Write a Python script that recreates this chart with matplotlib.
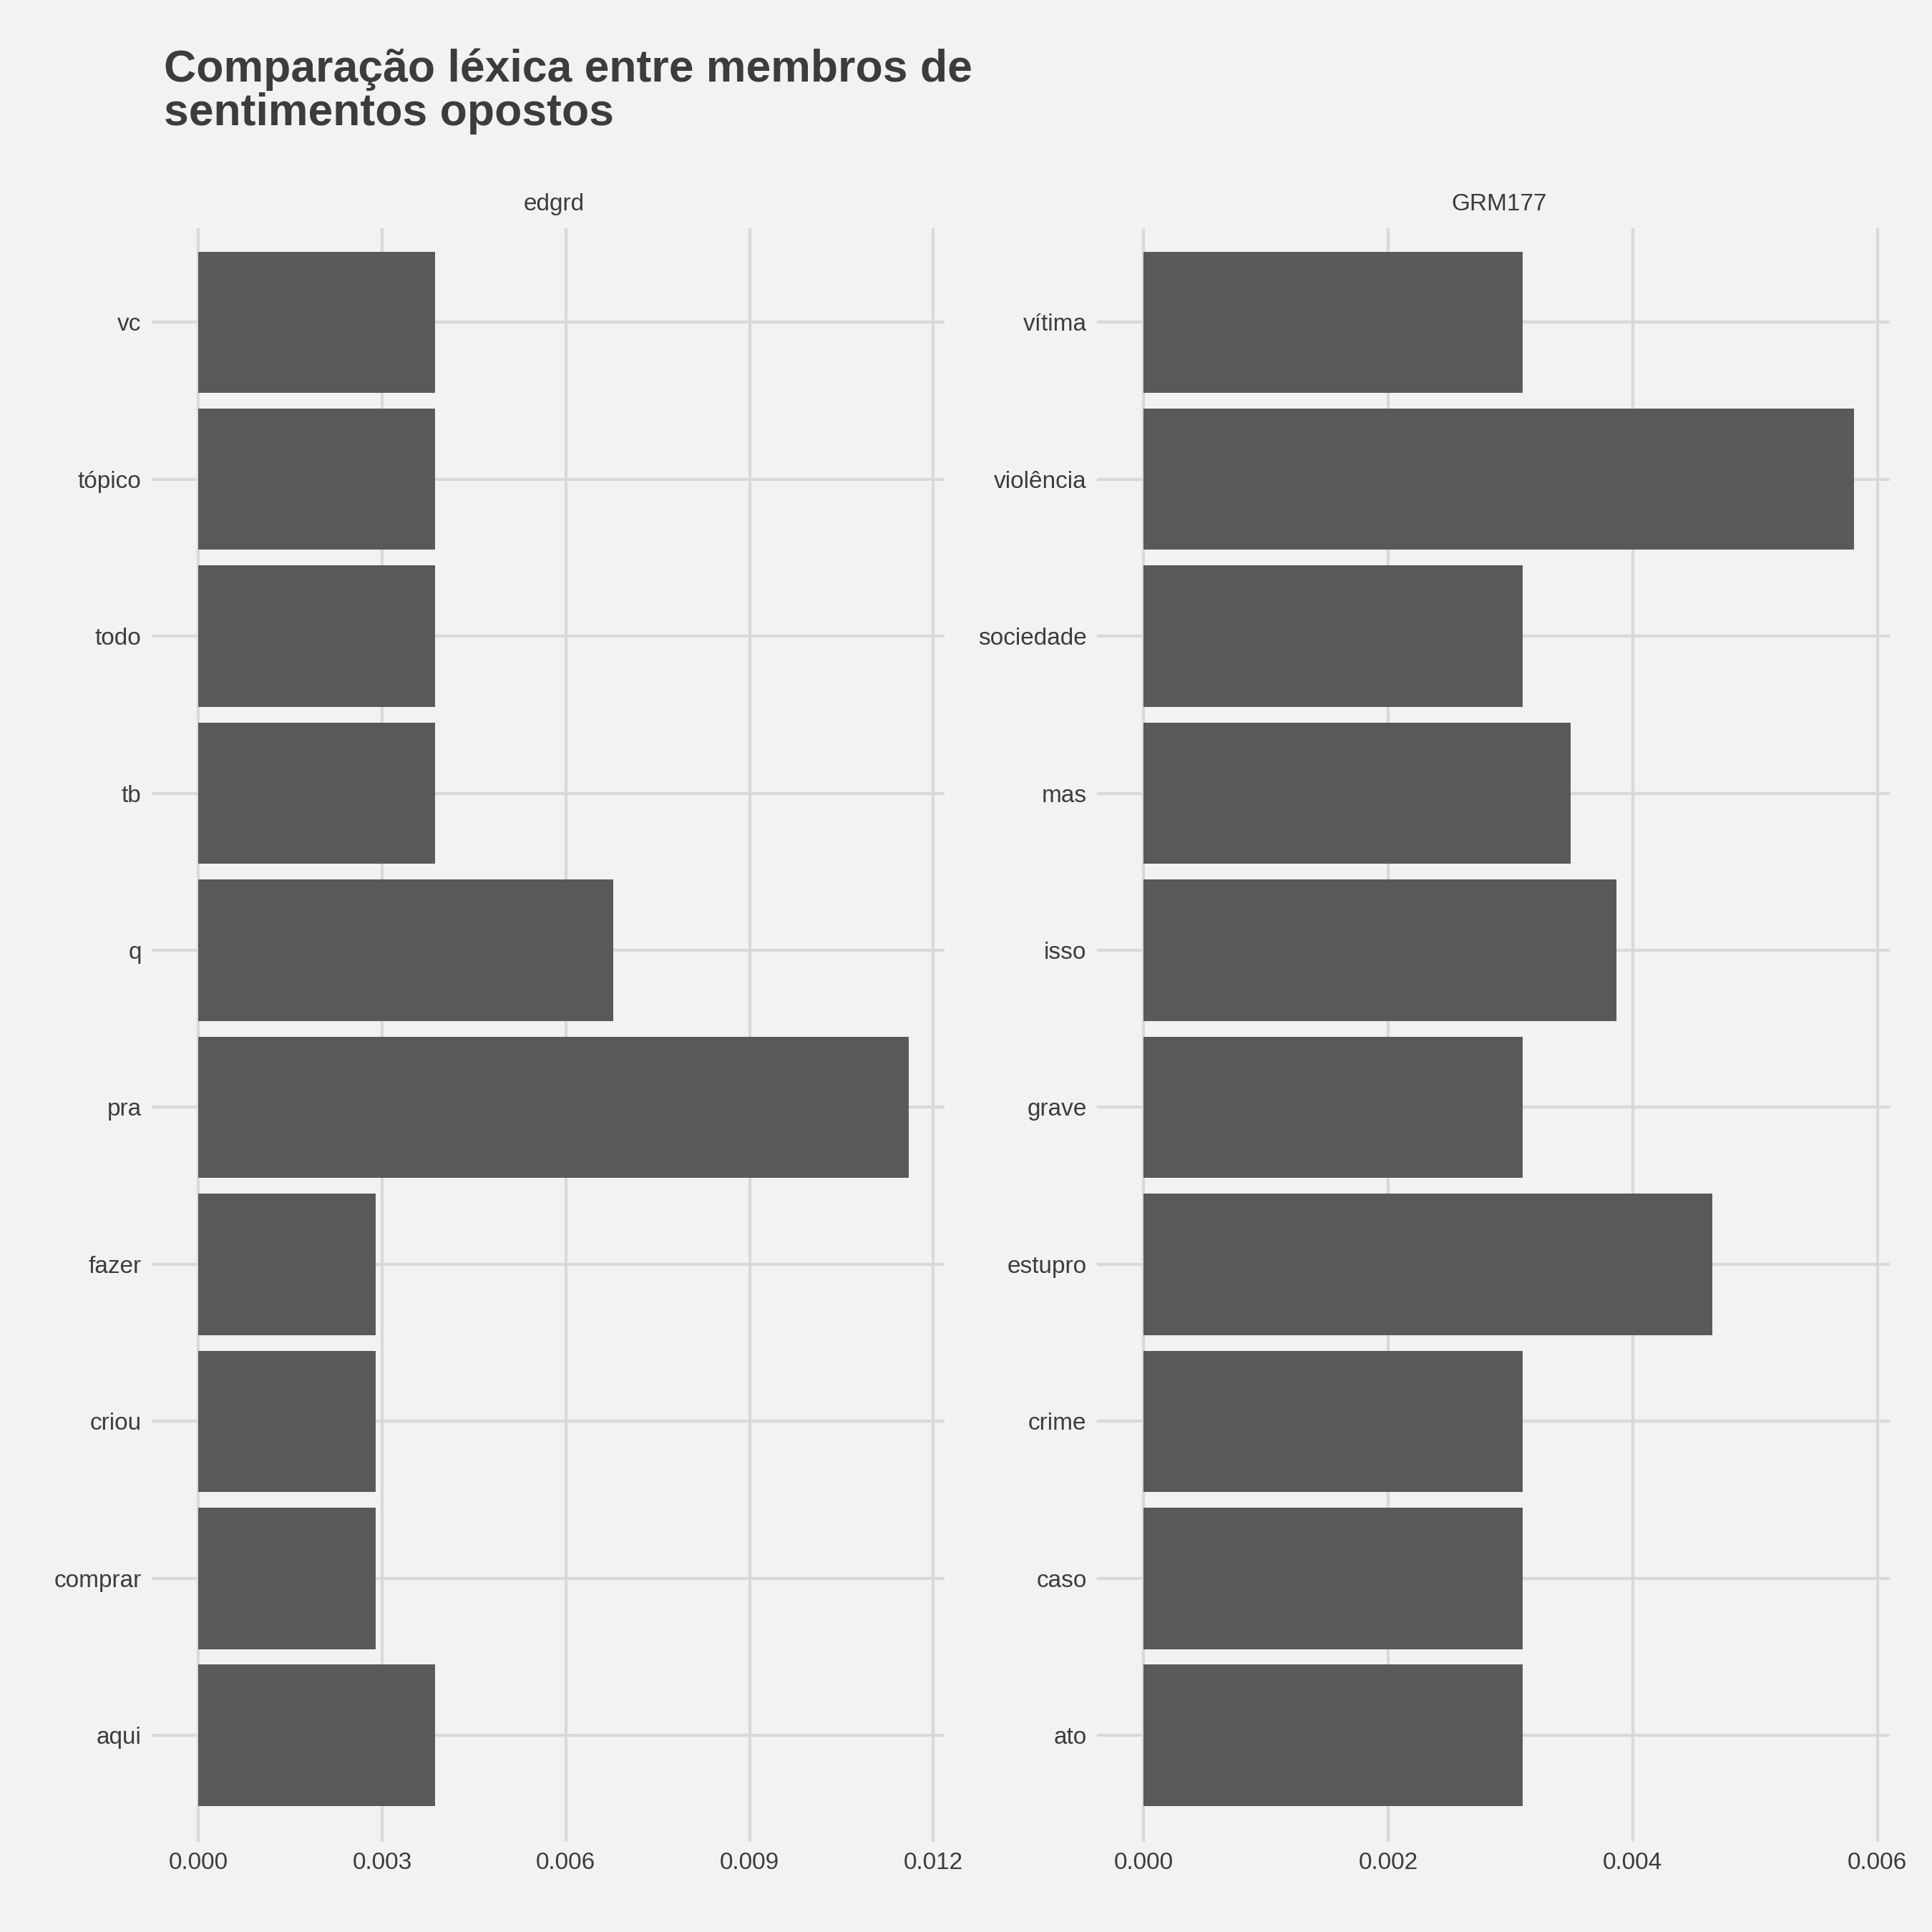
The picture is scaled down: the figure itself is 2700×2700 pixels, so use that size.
import matplotlib
matplotlib.use("Agg")
import matplotlib.pyplot as plt

left_words = ["aqui", "comprar", "criou", "fazer", "pra", "q", "tb", "todo", "tópico", "vc"]
left_vals = [0.00387, 0.0029, 0.0029, 0.0029, 0.0116, 0.00677, 0.00387, 0.00387, 0.00387, 0.00387]
right_words = ["ato", "caso", "crime", "estupro", "grave", "isso", "mas", "sociedade", "violência", "vítima"]
right_vals = [0.0031, 0.0031, 0.0031, 0.00465, 0.0031, 0.00387, 0.00349, 0.0031, 0.00581, 0.0031]
left_ticks = [0.000, 0.003, 0.006, 0.009, 0.012]
right_ticks = [0.000, 0.002, 0.004, 0.006]

bg = "#F2F2F2"; bar = "#595959"; grid = "#D9D9D9"; txt = "#3C3C3C"
plt.rcParams['font.family'] = ['Liberation Sans', 'DejaVu Sans']
fig = plt.figure(figsize=(9, 9), dpi=300, facecolor=bg)

def panel(rect, words, vals, ticks, xlim, title):
    ax = fig.add_axes(rect, facecolor=bg)
    y = range(len(words))
    ax.barh(list(y), vals, height=0.9, color=bar, zorder=2)
    ax.set_yticks(list(y)); ax.set_yticklabels(words)
    ax.set_xticks(ticks); ax.set_xticklabels([f"{t:.3f}" for t in ticks])
    ax.set_xlim(*xlim); ax.set_ylim(-0.6, len(words) - 0.4)
    ax.grid(True, color=grid, linewidth=1.0, zorder=0)
    for s in ax.spines.values(): s.set_visible(False)
    ax.tick_params(colors=txt, labelsize=8, color=grid, length=4, width=1.0)
    for l in ax.get_xticklabels() + ax.get_yticklabels(): l.set_color(txt)
    ax.set_title(title, fontsize=8, color=txt, pad=6)
    return ax

panel([0.0848, 0.053, 0.404, 0.829], left_words, left_vals, left_ticks, (-0.000564, 0.01218), "edgrd")
panel([0.574, 0.053, 0.404, 0.829], right_words, right_vals, right_ticks, (-0.000282, 0.0061), "GRM177")
fig.text(0.0848, 0.975, "Comparação léxica entre membros de\nsentimentos opostos", fontsize=15,
         fontweight="bold", color=txt, va="top", ha="left", linespacing=1.05)
fig.savefig("out.png", dpi=300, facecolor=bg)
